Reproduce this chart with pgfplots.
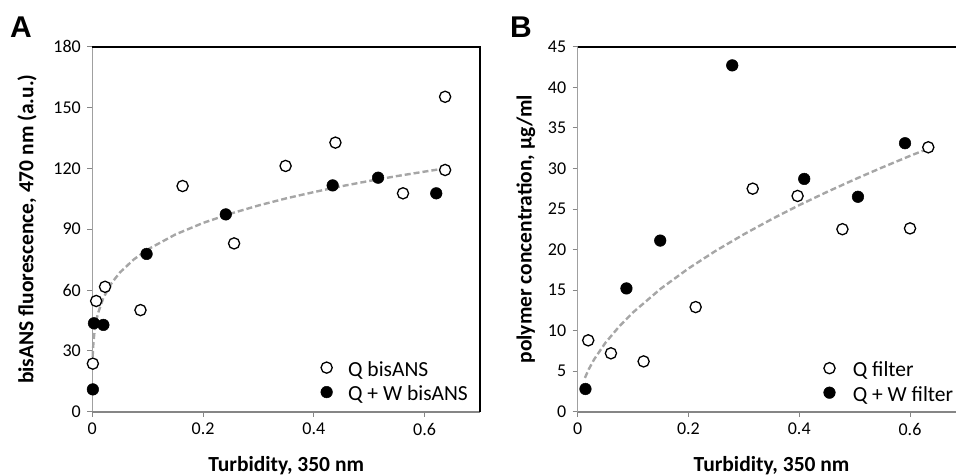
\documentclass[border=0pt]{standalone}
\usepackage{pgfplots}
\pgfplotsset{compat=1.18}
\usepackage{fontspec}
\setmainfont{Carlito}
\newfontfamily\letterfont{Liberation Sans}
\definecolor{trend}{HTML}{A6A6A6}
\definecolor{axgray}{HTML}{868686}
\definecolor{lightax}{HTML}{A0A0A0}

\pgfplotsset{
  panel/.style={
    scale only axis,
    width=387.7pt, height=365pt,
    xmin=0, xmax=0.7, ymin=0,
    xtick={0,0.2,0.4,0.6},
    xticklabels={0,0.2,0.4,0.6},
    axis line style={draw=none},
    tick align=outside,
    xtick pos=left, ytick pos=left,
    major tick length=5pt,
    every tick/.style={axgray, line width=0.8pt},
    tick label style={font=\fontsize{18}{20}\selectfont},
    yticklabel style={xshift=-3pt},
    xticklabel style={yshift=-3pt},
    /pgf/number format/assume math mode=true,
    every axis x label/.style={at={([yshift=-59.5pt]rel axis cs:0.5,0)}, anchor=base, inner sep=0pt, font=\bfseries\fontsize{21.5}{24}\selectfont},
    every axis y label/.style={at={([xshift=-59pt]rel axis cs:0,0.5)}, rotate=90, anchor=base, inner sep=0pt, font=\bfseries\fontsize{21.5}{24}\selectfont},
    legend style={draw=none, fill=none, inner sep=0pt, row sep=6.1pt,
      font=\fontsize{21.5}{24}\selectfont,
      nodes={text height=14pt, text depth=4pt, inner ysep=0pt, inner xsep=0pt},
      /tikz/every odd column/.append style={column sep=15.7pt}},
    legend cell align=left,
    legend image code/.code={\draw[##1] plot coordinates {(0pt,3.6pt)};},
    clip=false,
  },
  openm/.style={only marks, mark=*, mark size=5.6pt, mark options={fill=white, draw=black, line width=1.3pt}},
  fillm/.style={only marks, mark=*, mark size=5.8pt, mark options={fill=black, draw=black, line width=0.5pt}},
  trendl/.style={trend, line width=2.4pt, dash pattern=on 6pt off 3pt, no marks, forget plot},
  frame/.code={
    \draw[lightax, line width=0.8pt] (rel axis cs:0,0) -- (rel axis cs:0,1);
    \draw[axgray, line width=1.6pt] (rel axis cs:0,0) -- (rel axis cs:1,0);
    \draw[black, line width=1.6pt] (rel axis cs:0,1) -- (rel axis cs:1,1) -- (rel axis cs:1,0);
  },
}

\begin{document}
\begin{tikzpicture}
\path[use as bounding box] (0pt,0pt) rectangle (956pt,475pt);
\clip (0pt,0pt) rectangle (956pt,475pt);

\node[anchor=base, inner sep=0pt, font=\letterfont\bfseries\fontsize{30}{34}\selectfont] at (21pt,437pt) {A};
\node[anchor=base, inner sep=0pt, font=\letterfont\bfseries\fontsize{30}{34}\selectfont] at (521pt,437pt) {B};

% Panel A
\begin{axis}[panel, at={(92.3pt,63.3pt)}, anchor=south west,
  ymax=180, ytick={0,30,60,90,120,150,180},
  xlabel={Turbidity, 350 nm},
  ylabel={bisANS fluorescence, 470 nm (a.u.)},
  legend style={at={(rel axis cs:0.589,0.1367)}, anchor=north west}]
\addplot[trendl] coordinates {
(0.0007,27.0) (0.001,29.2) (0.002,33.9) (0.004,39.5) (0.007,44.7) (0.01,48.3)
(0.02,56.2) (0.035,63.5) (0.05,68.7) (0.075,75.1) (0.1,80.0) (0.15,87.4)
(0.2,93.1) (0.25,97.7) (0.3,101.7) (0.35,105.2) (0.4,108.3) (0.45,111.2)
(0.5,113.8) (0.55,116.2) (0.6,118.4) (0.637,120.0)};
\addplot[openm] coordinates {
(0.163,111.3) (0.349,121.2) (0.439,132.7) (0.637,155.3) (0.637,119.2) (0.561,107.7)
(0.256,83.0) (0.023,61.6) (0.007,54.6) (0.087,50.1) (0.001,23.7)};
\addlegendentry{Q bisANS}
\addplot[fillm] coordinates {
(0.241,97.3) (0.434,111.6) (0.516,115.4) (0.621,107.7) (0.098,77.8) (0.020,42.8)
(0.003,43.6) (0.001,11.0)};
\addlegendentry{Q + W bisANS}
\pgfplotsset{frame}
\end{axis}

% Panel B
\begin{axis}[panel, at={(577.7pt,63.3pt)}, anchor=south west,
  ymax=45, ytick={0,5,...,45},
  xlabel={Turbidity, 350 nm},
  ylabel={polymer concentration, µg/ml},
  every axis y label/.style={at={([xshift=-46pt]rel axis cs:0,0.5)}, rotate=90, anchor=base, inner sep=0pt, font=\bfseries\fontsize{21.5}{24}\selectfont},
  legend style={at={(rel axis cs:0.634,0.1351)}, anchor=north west,
    /tikz/every odd column/.append style={column sep=17.5pt}}]
\addplot[trendl] coordinates {
(0.013,4.17) (0.02,5.24) (0.03,6.49) (0.05,8.49) (0.075,10.52) (0.1,12.25)
(0.15,15.17) (0.2,17.66) (0.25,19.87) (0.3,21.87) (0.35,23.73) (0.4,25.47)
(0.45,27.09) (0.5,28.64) (0.55,30.12) (0.6,31.54) (0.633,32.44)};
\addplot[openm] coordinates {
(0.633,32.6) (0.316,27.5) (0.397,26.6) (0.478,22.5) (0.600,22.6) (0.213,12.9)
(0.019,8.8) (0.060,7.2) (0.119,6.2)};
\addlegendentry{Q filter}
\addplot[fillm] coordinates {
(0.279,42.7) (0.591,33.1) (0.409,28.7) (0.506,26.5) (0.149,21.1) (0.088,15.2)
(0.014,2.8)};
\addlegendentry{Q + W filter}
\pgfplotsset{frame}
\end{axis}
\end{tikzpicture}
\end{document}
